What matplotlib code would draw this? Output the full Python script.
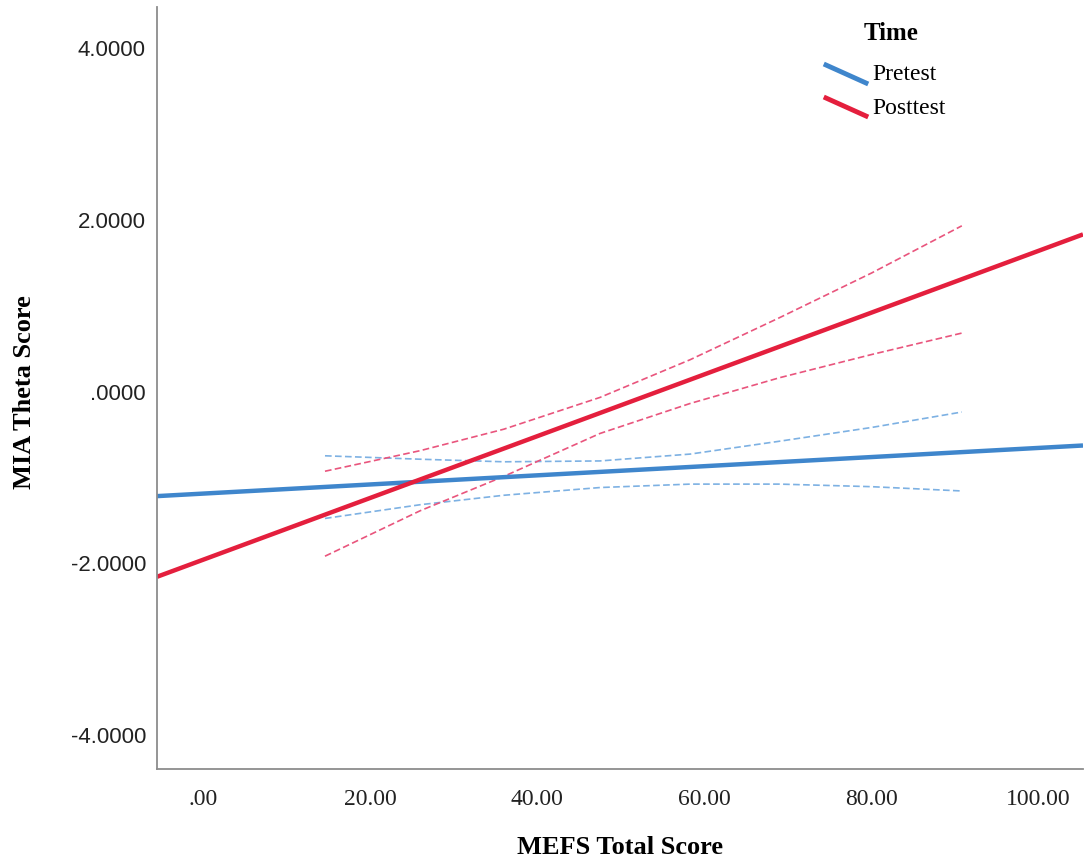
import matplotlib
matplotlib.use("Agg")
import matplotlib.pyplot as plt
from matplotlib.lines import Line2D

# ---- data ----
x_range = [-5.5, 105.3]                      # fit lines span the whole axis
pre_fit = [-1.23, -0.64]                     # Pretest fit at x_range ends
post_fit = [-2.17, 1.82]                     # Posttest fit at x_range ends

band_x = [14.6, 26.0, 36.0, 47.5, 58.3, 69.0, 80.0, 90.8]
post_upper = [-0.94, -0.70, -0.45, -0.08, 0.36, 0.85, 1.37, 1.92]
post_lower = [-1.93, -1.40, -1.00, -0.50, -0.15, 0.15, 0.42, 0.67]
pre_upper = [-0.76, -0.80, -0.83, -0.82, -0.74, -0.59, -0.43, -0.25]
pre_lower = [-1.49, -1.33, -1.22, -1.13, -1.09, -1.09, -1.12, -1.17]

xticks = [0, 20, 40, 60, 80, 100]
xtick_labels = [".00", "20.00", "40.00", "60.00", "80.00", "100.00"]
yticks = [-4, -2, 0, 2, 4]
ytick_labels = ["-4.0000", "-2.0000", ".0000", "2.0000", "4.0000"]
series_names = ["Pretest", "Posttest"]

BLUE = "#3f86cc"
RED = "#e41f3d"
BLUE_L = "#7db1e3"
RED_L = "#e9557d"

fig = plt.figure(figsize=(10.88, 8.62), dpi=100)
ax = fig.add_axes([157 / 1088, 92 / 862, (1083 - 157) / 1088, (770 - 8) / 862])

dash = (0, (4, 2))
ax.plot(band_x, pre_upper, color=BLUE_L, lw=1.2, ls=dash)
ax.plot(band_x, pre_lower, color=BLUE_L, lw=1.2, ls=dash)
ax.plot(band_x, post_upper, color=RED_L, lw=1.2, ls=dash)
ax.plot(band_x, post_lower, color=RED_L, lw=1.2, ls=dash)
ax.plot(x_range, pre_fit, color=BLUE, lw=3.2, solid_capstyle="butt")
ax.plot(x_range, post_fit, color=RED, lw=3.2, solid_capstyle="butt")

ax.set_xlim(x_range)
ax.set_ylim(-4.41, 4.47)

for s in ["top", "right"]:
    ax.spines[s].set_visible(False)
for s in ["left", "bottom"]:
    ax.spines[s].set_color("#8c8c8c")
    ax.spines[s].set_linewidth(1.3)

ax.set_xticks(xticks)
ax.set_xticklabels(xtick_labels, family="Liberation Serif", fontsize=17)
ax.set_yticks(yticks)
ax.set_yticklabels(ytick_labels, family="Liberation Sans", fontsize=16)
ax.tick_params(axis="x", length=0, pad=14, colors="#222222")
ax.tick_params(axis="y", length=0, pad=8, colors="#222222")

fig.text(620 / 1088, 1 - 848 / 862, "MEFS Total Score", ha="center", va="center",
         family="Liberation Serif", fontweight="bold", fontsize=19)
fig.text(25 / 1088, 1 - 392 / 862, "MIA Theta Score", ha="center", va="center",
         rotation=90, family="Liberation Serif", fontweight="bold", fontsize=19)

# legend
fig.text(891 / 1088, 1 - 33 / 862, "Time", ha="center", va="center",
         family="Liberation Serif", fontweight="bold", fontsize=18)
leg_colors = [BLUE, RED]
leg_y = [75, 108]
for name, c, yy in zip(series_names, leg_colors, leg_y):
    fig.add_artist(Line2D([826 / 1088, 866 / 1088],
                          [1 - (yy - 9) / 862, 1 - (yy + 9) / 862],
                          color=c, lw=3.5, transform=fig.transFigure))
    fig.text(872 / 1088, 1 - yy / 862, name, ha="left", va="center",
             family="Liberation Serif", fontsize=17)

fig.savefig("out.png", dpi=100)
